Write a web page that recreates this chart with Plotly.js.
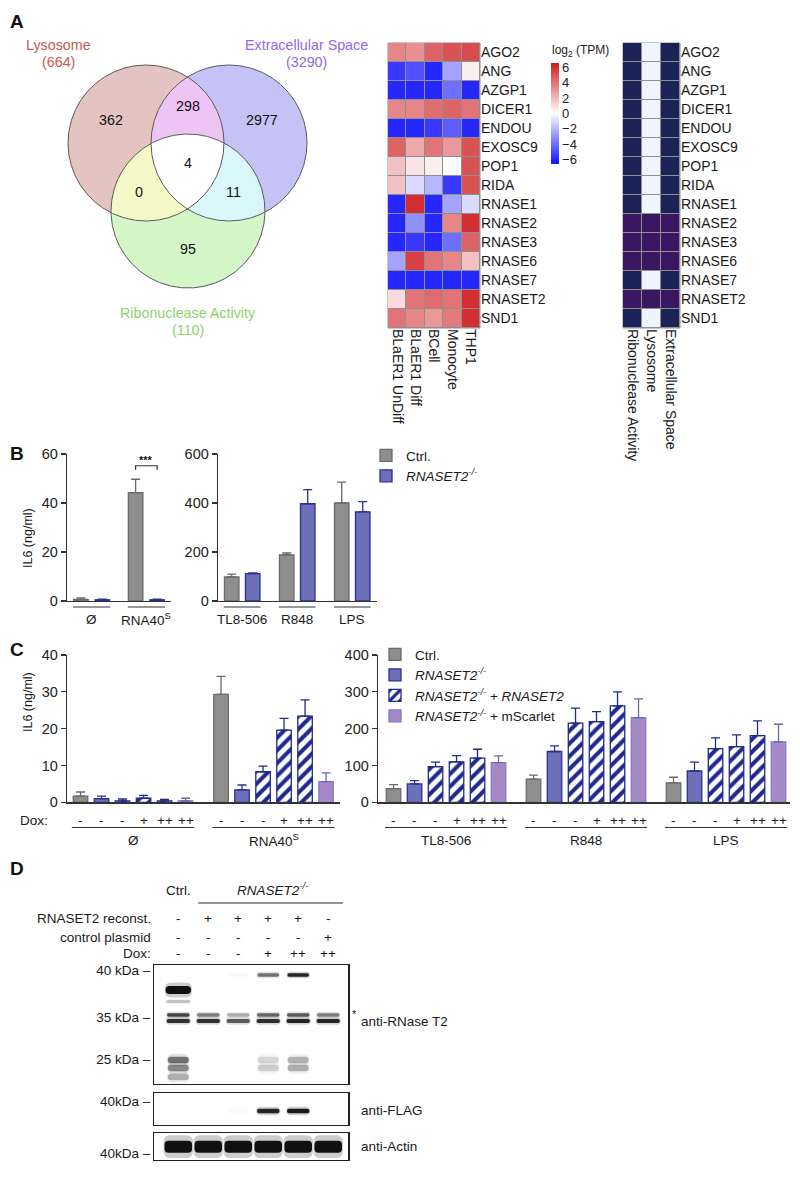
<!DOCTYPE html>
<html><head><meta charset="utf-8">
<script src="https://cdn.plot.ly/plotly-3.0.1.min.js"></script>
<style>body{margin:0;background:#fff}#chart{width:800px;height:1178px}</style>
</head><body><div id="chart"></div>
<script>
const W = 800, H = 1178;
// ================= DATA =================
// Panel A - Venn
const vennSetNames = ["Lysosome", "Extracellular Space", "Ribonuclease Activity"];
const vennSetTotals = [664, 3290, 110];
const vennRegions = ["L", "LE", "E", "LER", "LR", "ER", "R"];
const vennCounts = [362, 298, 2977, 4, 0, 11, 95];

// Panel A - expression heatmap (log2 TPM)
const genes = ["AGO2","ANG","AZGP1","DICER1","ENDOU","EXOSC9","POP1","RIDA","RNASE1","RNASE2","RNASE3","RNASE6","RNASE7","RNASET2","SND1"];
const cellTypes = ["BLaER1 UnDiff","BLaER1 Diff","BCell","Monocyte","THP1"];
const exprBLaER1UnDiff = [3.5, -5.5, -6, 3.5, -6, 4.5, 1.8, 1.8, -6, -6, -6, -2.5, -6, 1.0, 4.0];
const exprBLaER1Diff   = [3.2, -4.8, -6, 3.5, -6, 2.5, 0.8, -1.0, 6, -3.0, -5.5, 5.5, -6, 4.0, 3.5];
const exprBCell        = [4.5, -6, -6, 4.2, -5.5, 4.0, 0.5, -2.0, -6, -6, -6, 4.0, -6, 4.3, 3.0];
const exprMonocyte     = [5.0, -2.5, -4.0, 4.5, -4.5, 3.0, 0.1, -5.5, -2.5, 3.5, -4.0, 3.5, -6, 4.0, 3.8];
const exprTHP1         = [5.2, 0.5, -6, 4.0, -6, 5.0, 5.0, 5.0, -1.0, 6, 4.5, 1.8, -6, 6, 6];
const colorbarTicks = [6, 4, 2, 0, -2, -4, -6];

// Panel A - GO term membership (0 none, 1 member, 2 member of all three)
const goTerms = ["Ribonuclease Activity", "Lysosome", "Extracellular Space"];
const memberRibonuclease = [1,1,1,1,1,1,1,1,1,2,2,2,1,2,1];
const memberLysosome     = [0,0,0,0,0,0,0,0,0,2,2,2,0,2,0];
const memberExtracell    = [1,1,1,1,1,1,1,1,1,2,2,2,1,2,1];

// Panel B
const bLeftGroups = ["Ø", "RNA40<sup>S</sup>"];
const bRightGroups = ["TL8-506", "R848", "LPS"];
const bCtrlLeft = [0.7, 44.2],  bCtrlLeftErr = [0.6, 5.5];
const bKOLeft   = [0.5, 0.5],   bKOLeftErr   = [0.3, 0.3];
const bCtrlRight = [98, 188, 400], bCtrlRightErr = [12, 8, 85];
const bKORight   = [112, 397, 364], bKORightErr  = [3, 58, 42];

// Panel C
const cLeftGroups = ["Ø", "RNA40<sup>S</sup>"];
const cRightGroups = ["TL8-506", "R848", "LPS"];
const doxLabels = ["-", "-", "-", "+", "++", "++"];
const cCtrlL = [1.7, 29.3],  cCtrlLErr = [1.1, 4.9];
const cKOL   = [1.0, 3.4],   cKOLErr   = [0.7, 1.3];
const cRecNoneL = [0.4, 8.3], cRecNoneLErr = [0.5, 1.5];
const cRecPlusL = [1.1, 19.6], cRecPlusLErr = [0.8, 3.2];
const cRecPPL   = [0.4, 23.4], cRecPPLErr   = [0.4, 4.4];
const cScarL    = [0.4, 5.6],  cScarLErr    = [0.7, 2.4];
const cCtrlR = [37, 63, 53],    cCtrlRErr = [11, 11, 15];
const cKOR   = [50, 138, 85],   cKORErr   = [9, 15, 24];
const cRecNoneR = [97, 215, 146], cRecNoneRErr = [12, 41, 29];
const cRecPlusR = [110, 219, 151], cRecPlusRErr = [17, 27, 32];
const cRecPPR   = [120, 262, 181], cRecPPRErr   = [24, 38, 40];
const cScarR    = [108, 230, 164], cScarRErr    = [18, 51, 48];

// Panel D - western blot (lanes 1..6, band intensity 0..1, migration in box units)
const blotLanes = [1, 2, 3, 4, 5, 6];
const reconstRow = ["-", "+", "+", "+", "+", "-"];
const controlRow = ["-", "-", "-", "-", "-", "+"];
const doxRow     = ["-", "-", "-", "+", "++", "++"];
const rnaseMarkers = [5, 52.7, 94.3], rnaseMarkerText = ["40 kDa –", "35 kDa –", "25 kDa –"];
const band40Pos = 10,  band40 = [0, 0, 0.02, 0.55, 0.9, 0];
const band38Pos = 25,  band38 = [1.0, 0, 0, 0, 0, 0];
const band37Pos = 36.5, band37 = [0.22, 0, 0, 0, 0, 0];
const band35uPos = 50, band35u = [0.75, 0.5, 0.3, 0.6, 0.65, 0.5];
const band35lPos = 56, band35l = [0.85, 0.85, 0.65, 0.85, 0.9, 0.9];
const band25aPos = 95, band25a = [0.55, 0, 0, 0.15, 0.28, 0];
const band25bPos = 103, band25b = [0.45, 0, 0, 0.18, 0.3, 0];
const band25cPos = 112, band25c = [0.3, 0, 0, 0, 0, 0];
const flagPos = 18.3, flagBand = [0, 0, 0.02, 0.9, 0.95, 0];
const actinPos = 14, actinBand = [1, 1, 1, 1, 1, 1];

// ================= HELPERS =================
const FONT = 'Liberation Sans, Arial, Helvetica, sans-serif';
const TXT = '#1a1a1a';
const dx = (a, b) => [a / W, b / W];
const dy = (top, bot) => [1 - bot / H, 1 - top / H];
const data = [], shapes = [], ann = [];
function txt(x, y, text, o = {}) {
  ann.push(Object.assign({x, y, xref: 'x', yref: 'y', text, showarrow: false,
    xanchor: 'center', yanchor: 'middle', font: {size: 13.5, color: TXT, family: FONT}}, o));
}

// ================= VENN (canvas axis, pixel units) =================
const circ = [{cx: 146, cy: 143, r: 78}, {cx: 229, cy: 143, r: 78}, {cx: 188, cy: 211, r: 77}];
function regionPts(ids) {
  const pts = [];
  ids.forEach(i => {
    const c = circ[i];
    for (let k = 0; k < 1440; k++) {
      const a = 2 * Math.PI * k / 1440;
      const x = c.cx + c.r * Math.cos(a), y = c.cy + c.r * Math.sin(a);
      if (ids.every(j => j === i || (x - circ[j].cx) ** 2 + (y - circ[j].cy) ** 2 <= circ[j].r ** 2)) pts.push([x, y]);
    }
  });
  const mx = pts.reduce((s, p) => s + p[0], 0) / pts.length, my = pts.reduce((s, p) => s + p[1], 0) / pts.length;
  pts.sort((p, q) => Math.atan2(p[1] - my, p[0] - mx) - Math.atan2(q[1] - my, q[0] - mx));
  pts.push(pts[0]);
  return [pts.map(p => p[0]), pts.map(p => p[1])];
}
function fillReg(ids, color) {
  const [x, y] = regionPts(ids);
  data.push({type: 'scatter', x, y, xaxis: 'x', yaxis: 'y', mode: 'lines', fill: 'toself', fillcolor: color,
    line: {width: 0, color: color}, hoverinfo: 'skip', showlegend: false});
}
fillReg([0], '#e3c4c1'); fillReg([1], '#c5c3f6'); fillReg([2], '#d5f6c7');
fillReg([0, 1], '#eec4f4'); fillReg([0, 2], '#f4f9c7'); fillReg([1, 2], '#d9f7fa');
fillReg([0, 1, 2], '#ffffff');
circ.forEach((c, i) => {
  const [x, y] = regionPts([i]);
  data.push({type: 'scatter', x, y, xaxis: 'x', yaxis: 'y', mode: 'lines', line: {width: 1, color: '#5a5a5a'}, hoverinfo: 'skip', showlegend: false});
});
const vennSetColors = ['#c65a52', '#9466ee', '#8ed36a'];
const vennSetPos = [[58, 45], [306, 45], [188, 313]];
vennSetNames.forEach((n, i) => {
  txt(vennSetPos[i][0], vennSetPos[i][1], n, {font: {size: 14.3, color: vennSetColors[i], family: FONT}});
  txt(vennSetPos[i][0], vennSetPos[i][1] + 17, '(' + vennSetTotals[i] + ')', {font: {size: 14.3, color: vennSetColors[i], family: FONT}});
});
const vennLabelPos = {L: [111, 120], LE: [188, 106], E: [262, 120], LER: [188, 163], LR: [139, 192], ER: [233, 192], R: [188, 249]};
vennRegions.forEach((r, i) => txt(vennLabelPos[r][0], vennLabelPos[r][1], String(vennCounts[i]), {font: {size: 14.3, color: '#111', family: FONT}}));

// Panel letters
[['A', 21], ['B', 453], ['C', 649], ['D', 868]].forEach(([l, y]) =>
  txt(8, y, '<b>' + l + '</b>', {xanchor: 'left', font: {size: 19, color: '#111', family: FONT}}));

// ================= HEATMAPS =================
const exprCols = [exprBLaER1UnDiff, exprBLaER1Diff, exprBCell, exprMonocyte, exprTHP1];
const zExpr = genes.map((g, r) => exprCols.map(c => c[r]));
data.push({type: 'heatmap', x: cellTypes, y: genes, z: zExpr, xaxis: 'x2', yaxis: 'y2', xgap: 1, ygap: 1,
  zmin: -6.6, zmax: 6.6, colorscale: [[0, '#1010ff'], [0.5, '#ffffff'], [1, '#cf1a1f']], hoverinfo: 'skip',
  colorbar: {x: 551 / W, xanchor: 'left', y: 1 - 113.5 / H, yanchor: 'middle', len: 101 / H, lenmode: 'fraction',
    thickness: 8, outlinewidth: 0, tickvals: colorbarTicks, ticktext: colorbarTicks.map(v => v < 0 ? '−' + Math.abs(v) : String(v)),
    ticks: '', tickfont: {size: 13, color: '#222', family: FONT}, ypad: 0, xpad: 0}});
txt(550, 51, 'log<sub>2</sub> (TPM)', {xanchor: 'left', font: {size: 12, color: '#222', family: FONT}});
const memCols = [memberRibonuclease, memberLysosome, memberExtracell];
const zMem = genes.map((g, r) => memCols.map(c => c[r]));
data.push({type: 'heatmap', x: goTerms, y: genes, z: zMem, xaxis: 'x3', yaxis: 'y3', xgap: 1, ygap: 1,
  zmin: 0, zmax: 2, showscale: false, hoverinfo: 'skip',
  colorscale: [[0, '#eef5fc'], [0.25, '#eef5fc'], [0.25, '#1b2258'], [0.75, '#1b2258'], [0.75, '#3b1662'], [1, '#3b1662']]});
['x2', 'x3'].forEach((xa, i) => {
  const ya = i ? 'y3' : 'y2';
  shapes.push({type: 'rect', xref: xa + ' domain', yref: ya + ' domain', x0: 0, x1: 1, y0: 0, y1: 1,
    fillcolor: '#8f8f8f', line: {width: 1, color: '#8f8f8f'}, layer: 'below'});
});
const hmX = {showgrid: false, zeroline: false, ticks: '', tickangle: 90, tickfont: {size: 14, color: TXT}, fixedrange: true};
const hmY = {showgrid: false, zeroline: false, ticks: '', autorange: 'reversed', side: 'right', tickfont: {size: 14, color: TXT}, fixedrange: true};

// ================= BAR HELPERS =================
const C_CTRL = {fill: '#8e8e8e', line: '#6a6a6a', err: '#6a6a6a'};
const C_KO = {fill: '#6b70b9', line: '#2b3192', err: '#2b3192'};
const C_HATCH = {fill: '#ffffff', line: '#1f2a8c', err: '#1f2a8c'};
const C_SCAR = {fill: '#a68ac7', line: '#8c78be', err: '#6466b3'};
function barTrace(xa, ya, idx, n, slot, bw, vals, errs, col, o = {}) {
  const xs = vals.map((v, g) => g + (idx - (n - 1) / 2) * slot);
  const t = {type: 'bar', x: xs, y: vals, width: bw, xaxis: xa, yaxis: ya, hoverinfo: 'skip',
    marker: {color: col.fill, line: {color: col.line, width: 1.3}},
    error_y: {type: 'data', symmetric: false, array: errs, arrayminus: errs.map(() => 0), color: col.err, thickness: 1.3, width: 4.5},
    showlegend: false};
  if (col === C_HATCH) t.marker.pattern = {shape: '/', fgcolor: '#1f2a8c', bgcolor: '#ffffff', size: 9, solidity: 0.45, fillmode: 'replace'};
  return Object.assign(t, o);
}
function yAx(top, bot, range, tv) {
  return {domain: dy(top, bot), range, tickvals: tv, showline: true, linecolor: '#333', linewidth: 1.3, ticks: 'outside',
    ticklen: 5, tickwidth: 1.3, tickcolor: '#333', tickfont: {size: 14.5, color: '#222'}, showgrid: false, zeroline: false, fixedrange: true};
}
function xAx(a, b, range, anchor) {
  return {domain: dx(a, b), range, anchor, showline: true, linecolor: '#333', linewidth: 1.3, ticks: '', showticklabels: false,
    showgrid: false, zeroline: false, fixedrange: true};
}
function groupLabels(xa, groups, n, slot, bw, lineY, labY) {
  groups.forEach((g, i) => {
    const half = (n - 1) / 2 * slot + bw / 2 + 0.01;
    shapes.push({type: 'line', xref: xa, yref: 'y', x0: i - half, x1: i + half, y0: lineY, y1: lineY, line: {color: '#333', width: 1.2}});
    ann.push({x: i, y: labY, xref: xa, yref: 'y', text: g, showarrow: false, yanchor: 'middle', font: {size: 13.5, color: TXT, family: FONT}});
  });
}

// ================= PANEL B =================
const bSlotL = 0.393, bBwL = 0.265, bSlotR = 0.382, bBwR = 0.264;
data.push(barTrace('x4', 'y4', 0, 2, bSlotL, bBwL, bCtrlLeft, bCtrlLeftErr, C_CTRL));
data.push(barTrace('x4', 'y4', 1, 2, bSlotL, bBwL, bKOLeft, bKOLeftErr, C_KO));
data.push(barTrace('x5', 'y5', 0, 2, bSlotR, bBwR, bCtrlRight, bCtrlRightErr, C_CTRL, {showlegend: true, name: 'Ctrl.', legend: 'legend'}));
data.push(barTrace('x5', 'y5', 1, 2, bSlotR, bBwR, bKORight, bKORightErr, C_KO, {showlegend: true, name: '<i>RNASET2<sup>-/-</sup></i>', legend: 'legend'}));
groupLabels('x4', bLeftGroups, 2, bSlotL, bBwL, 607, 619);
groupLabels('x5', bRightGroups, 2, bSlotR, bBwR, 607, 619);
// significance bracket
shapes.push({type: 'path', xref: 'x4', yref: 'y4', path: `M${1 - bSlotL / 2},53.6 L${1 - bSlotL / 2},55.2 L${1 + bSlotL / 2},55.2 L${1 + bSlotL / 2},53.6`, line: {color: '#333', width: 1.2}});
ann.push({x: 1, y: 57.6, xref: 'x4', yref: 'y4', text: '<b>***</b>', showarrow: false, font: {size: 11, color: '#111', family: FONT}});
txt(28, 538, 'IL6 (ng/ml)', {textangle: -90, font: {size: 12.5, color: TXT, family: FONT}});

// ================= PANEL C =================
const cSlotL = 0.1495, cBwL = 0.1032, cSlotR = 0.15, cBwR = 0.1036;
const cL = [[cCtrlL, cCtrlLErr, C_CTRL], [cKOL, cKOLErr, C_KO], [cRecNoneL, cRecNoneLErr, C_HATCH], [cRecPlusL, cRecPlusLErr, C_HATCH], [cRecPPL, cRecPPLErr, C_HATCH], [cScarL, cScarLErr, C_SCAR]];
const cR = [[cCtrlR, cCtrlRErr, C_CTRL], [cKOR, cKORErr, C_KO], [cRecNoneR, cRecNoneRErr, C_HATCH], [cRecPlusR, cRecPlusRErr, C_HATCH], [cRecPPR, cRecPPRErr, C_HATCH], [cScarR, cScarRErr, C_SCAR]];
const cLegendNames = {0: 'Ctrl.', 1: '<i>RNASET2<sup>-/-</sup></i>', 2: '<i>RNASET2<sup>-/-</sup></i> + <i>RNASET2</i>', 5: '<i>RNASET2<sup>-/-</sup></i> + mScarlet'};
cL.forEach((s, i) => data.push(barTrace('x6', 'y6', i, 6, cSlotL, cBwL, s[0], s[1], s[2])));
cR.forEach((s, i) => data.push(barTrace('x7', 'y7', i, 6, cSlotR, cBwR, s[0], s[1], s[2],
  cLegendNames[i] ? {showlegend: true, name: cLegendNames[i], legend: 'legend2'} : {})));
function doxRowAnn(xa, ngroups, slot) {
  for (let g = 0; g < ngroups; g++) doxLabels.forEach((d, i) =>
    ann.push({x: g + (i - 2.5) * slot, y: 820, xref: xa, yref: 'y', text: d, showarrow: false, yanchor: 'middle', font: {size: 13.5, color: TXT, family: FONT}}));
}
doxRowAnn('x6', 2, cSlotL); doxRowAnn('x7', 3, cSlotR);
txt(18, 820, 'Dox:', {xanchor: 'left'});
groupLabels('x6', cLeftGroups, 6, cSlotL, cBwL, 827.5, 840);
groupLabels('x7', cRightGroups, 6, cSlotR, cBwR, 827.5, 840);
txt(28, 702, 'IL6 (ng/ml)', {textangle: -90, font: {size: 12.5, color: TXT, family: FONT}});

// ================= PANEL D =================
function bandTraces(xa, ya, pos, thick, inten, bw = 0.78) {
  data.push({type: 'bar', x: blotLanes, y: blotLanes.map(() => thick * 1.9), base: blotLanes.map(() => pos - thick * 0.95), width: bw + 0.06,
    xaxis: xa, yaxis: ya, hoverinfo: 'skip', showlegend: false,
    marker: {color: inten.map(v => `rgba(0,0,0,${(v * 0.2).toFixed(3)})`), line: {width: 0}, cornerradius: 6}});
  data.push({type: 'bar', x: blotLanes, y: blotLanes.map(() => thick), base: blotLanes.map(() => pos - thick / 2), width: bw,
    xaxis: xa, yaxis: ya, hoverinfo: 'skip', showlegend: false,
    marker: {color: inten.map(v => `rgba(0,0,0,${(v * 0.92).toFixed(3)})`), line: {width: 0}, cornerradius: 4}});
}
bandTraces('x8', 'y8', band40Pos, 3.5, band40, 0.72);
bandTraces('x8', 'y8', band38Pos, 8, band38, 0.85);
bandTraces('x8', 'y8', band37Pos, 3, band37, 0.8);
bandTraces('x8', 'y8', band35uPos, 3.5, band35u, 0.75);
bandTraces('x8', 'y8', band35lPos, 4, band35l, 0.78);
bandTraces('x8', 'y8', band25aPos, 6.5, band25a, 0.7);
bandTraces('x8', 'y8', band25bPos, 6.5, band25b, 0.7);
bandTraces('x8', 'y8', band25cPos, 6.5, band25c, 0.7);
bandTraces('x9', 'y9', flagPos, 4.5, flagBand, 0.75);
bandTraces('x10', 'y10', actinPos, 12, actinBand, 0.92);
const blotX = (a, b) => ({domain: dx(a, b), range: [0.2, 6.67], showline: true, mirror: true, linecolor: '#222', linewidth: 1.2,
  ticks: '', showticklabels: false, showgrid: false, zeroline: false, fixedrange: true});
const blotY = (top, bot, range, tv, tt) => ({domain: dy(top, bot), range, showline: true, mirror: true, linecolor: '#222', linewidth: 1.2,
  ticks: '', tickvals: tv, ticktext: tt, tickfont: {size: 13.5, color: TXT}, showgrid: false, zeroline: false, fixedrange: true});
ann.push({x: 1, y: 890, xref: 'x8', yref: 'y', text: 'Ctrl.', showarrow: false, font: {size: 13.5, color: TXT, family: FONT}});
ann.push({x: 4.15, y: 889, xref: 'x8', yref: 'y', text: '<i>RNASET2<sup>-/-</sup></i>', showarrow: false, font: {size: 13.5, color: TXT, family: FONT}});
shapes.push({type: 'line', xref: 'x8', yref: 'y', x0: 1.66, x1: 6.49, y0: 903, y1: 903, line: {color: '#333', width: 1.2}});
[[reconstRow, 'RNASET2 reconst.', 918], [controlRow, 'control plasmid', 937], [doxRow, 'Dox:', 953]].forEach(([row, lab, y]) => {
  txt(153, y, lab, {xanchor: 'right'});
  row.forEach((v, i) => ann.push({x: blotLanes[i], y, xref: 'x8', yref: 'y', text: v, showarrow: false, yanchor: 'middle', font: {size: 13.5, color: TXT, family: FONT}}));
});
txt(354, 1014, '*', {font: {size: 11, color: TXT, family: FONT}});
txt(359, 1021, 'anti-RNase T2', {xanchor: 'left'});
txt(359, 1110, 'anti-FLAG', {xanchor: 'left'});
txt(359, 1146, 'anti-Actin', {xanchor: 'left'});

// ================= LAYOUT =================
const layout = {
  width: W, height: H, margin: {l: 0, r: 0, t: 0, b: 0}, paper_bgcolor: '#ffffff', plot_bgcolor: 'rgba(0,0,0,0)',
  font: {family: FONT, size: 13, color: TXT}, barmode: 'overlay', showlegend: true,
  xaxis: {domain: [0, 1], range: [0, W], visible: false, fixedrange: true},
  yaxis: {domain: [0, 1], range: [H, 0], visible: false, fixedrange: true},
  xaxis2: Object.assign({domain: dx(388, 480), anchor: 'y2'}, hmX),
  yaxis2: Object.assign({domain: dy(43, 328), anchor: 'x2'}, hmY),
  xaxis3: Object.assign({domain: dx(623, 680), anchor: 'y3'}, hmX),
  yaxis3: Object.assign({domain: dy(43, 328), anchor: 'x3'}, hmY),
  xaxis4: xAx(67, 171, [-0.45, 1.45], 'y4'), yaxis4: Object.assign(yAx(454, 601, [0, 60], [0, 20, 40, 60]), {anchor: 'x4'}),
  xaxis5: xAx(218, 377, [-0.44, 2.45], 'y5'), yaxis5: Object.assign(yAx(454, 601, [0, 600], [0, 200, 400, 600]), {anchor: 'x5'}),
  xaxis6: xAx(67, 340, [-0.47, 1.473], 'y6'), yaxis6: Object.assign(yAx(655, 802.3, [0, 40], [0, 10, 20, 30, 40]), {anchor: 'x6'}),
  xaxis7: xAx(378, 790, [-0.486, 2.457], 'y7'), yaxis7: Object.assign(yAx(655, 802.3, [0, 400], [0, 100, 200, 300, 400]), {anchor: 'x7'}),
  xaxis8: Object.assign(blotX(154.3, 348.3), {anchor: 'y8'}), yaxis8: Object.assign(blotY(965, 1084, [119, 0], rnaseMarkers, rnaseMarkerText), {anchor: 'x8'}),
  xaxis9: Object.assign(blotX(154.3, 348.3), {anchor: 'y9'}), yaxis9: Object.assign(blotY(1092.7, 1125, [32.3, 0], [9], ['40kDa –']), {anchor: 'x9'}),
  xaxis10: Object.assign(blotX(154.3, 348.3), {anchor: 'y10'}), yaxis10: Object.assign(blotY(1132.7, 1160, [27.3, 0], [20.3], ['40kDa –']), {anchor: 'x10'}),
  legend: {x: 366 / W, xanchor: 'left', y: 1 - 440 / H, yanchor: 'top', bgcolor: 'rgba(0,0,0,0)', font: {size: 13.5, color: TXT}, tracegroupgap: 0, itemwidth: 30},
  legend2: {x: 375 / W, xanchor: 'left', y: 1 - 639 / H, yanchor: 'top', bgcolor: 'rgba(0,0,0,0)', font: {size: 13.5, color: TXT}, tracegroupgap: 0, itemwidth: 30},
  shapes, annotations: ann
};
Plotly.newPlot('chart', data, layout, {staticPlot: true, displayModeBar: false});
</script></body></html>
